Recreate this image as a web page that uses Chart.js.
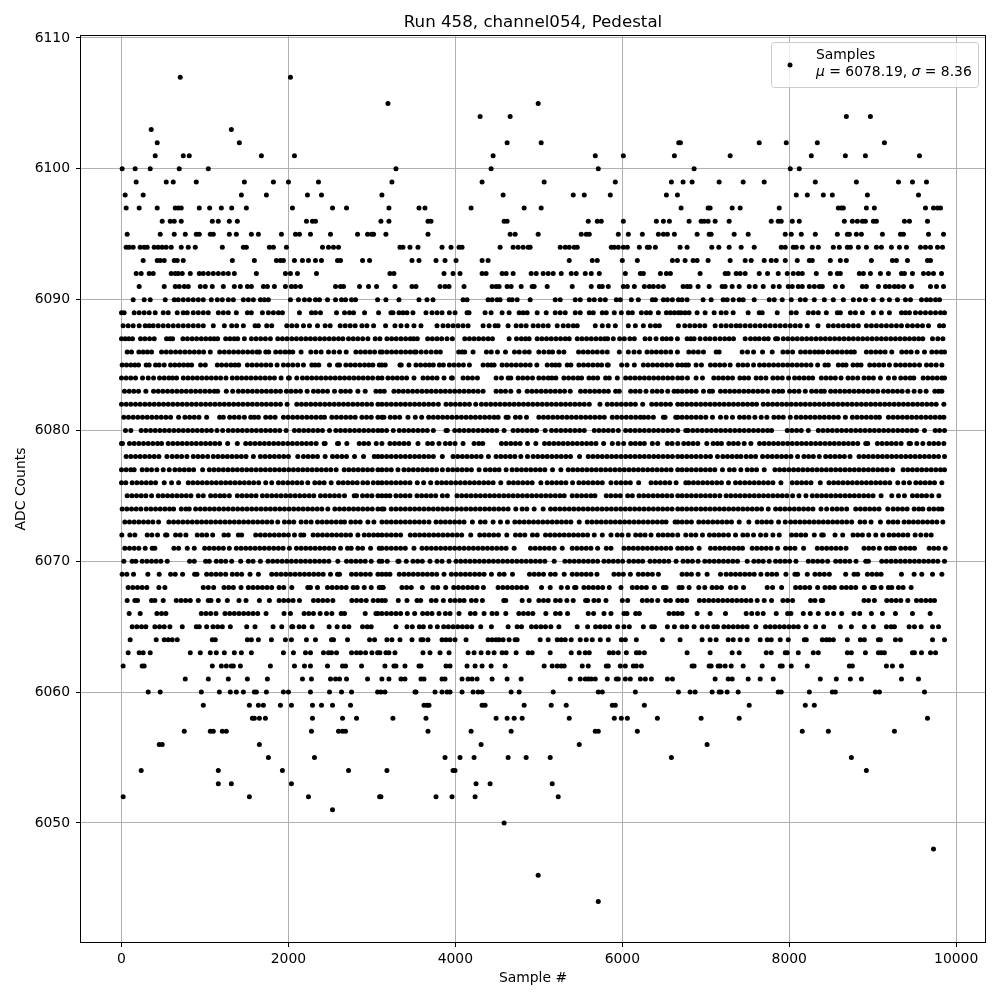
<!DOCTYPE html>
<html>
<head>
<meta charset="utf-8">
<title>Run 458, channel054, Pedestal</title>
<script src="https://cdn.jsdelivr.net/npm/chart.js@4/dist/chart.umd.min.js"></script>
<style>
  body { margin: 0; background: #fff; }
  canvas { display: block; }
</style>
</head>
<body>
<canvas id="chart" width="1000" height="1000"></canvas>
<script>
const chartTitle = "Run 458, channel054, Pedestal";
const xLabel = "Sample #";
const yLabel = "ADC Counts";
const seriesName = "Samples";
const meanAdc = "6078.19";
const sigmaAdc = "8.36";
const xTicks = [0, 2000, 4000, 6000, 8000, 10000];
const yTicks = [6050, 6060, 6070, 6080, 6090, 6100, 6110];

// sample numbers, one list per ADC level.
// the dense rows overlap too much to separate single samples, so those positions are estimates
const adc6107 = [704, 2024];
const adc6105 = [3192, 4992];
const adc6104 = [4296, 4656, 8684, 8972];
const adc6103 = [356, 1316];
const adc6102 = [428, 1412, 4620, 5028, 6676, 6696, 7640, 7964, 8336, 9140];
const adc6101 = [404, 740, 812, 1676, 2072, 4452, 5676, 6012, 6624, 7292, 8264, 8672, 8912, 9560];
const adc6100 = [8, 164, 344, 692, 1040, 3288, 4428, 5712, 6860, 8012, 8120];
const adc6099 = [176, 536, 620, 896, 1472, 1820, 2000, 2360, 3240, 4320, 5064, 5916, 6588, 6728, 6836, 7160, 7448, 7700, 8312, 8804, 9308, 9476, 9644];
const adc6098 = [44, 260, 1436, 1736, 2228, 2396, 3120, 4572, 5412, 5544, 5856, 6528, 6660, 8084, 8216, 8408, 8516, 8936, 9548];
const adc6097 = [56, 212, 428, 644, 680, 716, 932, 1056, 1196, 1320, 1496, 2048, 2528, 2696, 3204, 3564, 3636, 4188, 4824, 5028, 6704, 7028, 7052, 7316, 7412, 7880, 8588, 8624, 8648, 8924, 9020, 9632, 9728, 9776, 9812];
const adc6096 = [488, 584, 632, 716, 1088, 1160, 1292, 1388, 2216, 2288, 2324, 3108, 3204, 3672, 3708, 4584, 4620, 5592, 5700, 5748, 6012, 6408, 6492, 6564, 6800, 6944, 6980, 7028, 7112, 7280, 7784, 7868, 7904, 8036, 8120, 8660, 8756, 8816, 8876, 8912, 9008, 9044, 9380, 9440, 9656];
const adc6095 = [68, 464, 632, 764, 896, 932, 1064, 1100, 1292, 1376, 1556, 1640, 1916, 2084, 2132, 2264, 2504, 2828, 2948, 2996, 3020, 3168, 3672, 4656, 4716, 4992, 5508, 5568, 5604, 5952, 6072, 6240, 6432, 6492, 6540, 6624, 6896, 7040, 7064, 7340, 7508, 7952, 8024, 8144, 8312, 8576, 8696, 8720, 8804, 8864, 9116, 9332, 9368, 9668, 9848];
const adc6094 = [56, 92, 140, 224, 272, 308, 392, 440, 488, 536, 596, 716, 800, 884, 1208, 1460, 1496, 1772, 1820, 1976, 2408, 2480, 2540, 2600, 3336, 3372, 3456, 3552, 3840, 3948, 4044, 4080, 4536, 4692, 4752, 4812, 4872, 4896, 5256, 5316, 5364, 5424, 5460, 5868, 5904, 5952, 6012, 6060, 6204, 6300, 6324, 6396, 6692, 6776, 7072, 7156, 7280, 7424, 7580, 7904, 7952, 8048, 8084, 8156, 8276, 8348, 8528, 8600, 8696, 8732, 8828, 8924, 9044, 9104, 9224, 9320, 9404, 9572, 9632, 9692, 9776, 9836];
const adc6093 = [260, 428, 464, 512, 632, 668, 740, 1328, 1592, 1856, 1904, 1940, 2072, 2168, 2240, 2324, 2396, 2588, 2624, 2888, 2972, 3480, 3564, 3768, 3876, 4008, 4320, 4392, 5364, 5640, 5700, 6000, 6180, 6600, 6660, 6752, 6848, 6896, 7028, 7292, 7472, 7544, 7700, 7784, 7844, 7952, 8096, 8240, 8276, 8492, 8612, 8684, 8984, 9236, 9284, 9416, 9656, 9692];
const adc6092 = [176, 236, 332, 380, 596, 644, 680, 728, 824, 932, 980, 1040, 1100, 1160, 1220, 1280, 1352, 1616, 1964, 2024, 2108, 2336, 3216, 3264, 3864, 3972, 4056, 4320, 4368, 4560, 4608, 4692, 4908, 4968, 5052, 5112, 5172, 5268, 5388, 5448, 5556, 5628, 5724, 6036, 6216, 6252, 6456, 6528, 6576, 6932, 7232, 7268, 7364, 7412, 7472, 7640, 7740, 7868, 7976, 8048, 8108, 8156, 8324, 8492, 8576, 8612, 8840, 8888, 8972, 9092, 9188, 9344, 9380, 9476, 9608, 9668, 9728, 9824];
const adc6091 = [212, 512, 644, 692, 752, 800, 944, 1004, 1088, 1220, 1352, 1424, 1508, 1556, 1700, 1748, 1832, 1964, 2036, 2084, 2144, 2564, 2624, 2660, 2852, 2960, 3056, 3276, 3480, 3528, 3816, 3876, 3924, 4104, 4440, 4488, 4524, 4620, 4668, 4788, 4920, 4944, 5100, 5400, 5628, 5724, 5760, 5832, 6012, 6060, 6144, 6264, 6324, 6372, 6432, 6492, 6728, 6776, 6812, 6908, 7040, 7196, 7232, 7316, 7400, 7520, 7592, 7688, 7808, 7880, 7988, 8036, 8108, 8156, 8240, 8300, 8360, 8396, 8552, 8636, 8876, 8924, 9068, 9152, 9200, 9260, 9308, 9368, 9464, 9692, 9764, 9848];
const adc6090 = [140, 272, 344, 524, 632, 680, 740, 800, 860, 920, 980, 1076, 1148, 1208, 1280, 1340, 1460, 1520, 1580, 1664, 1712, 1760, 2024, 2120, 2192, 2252, 2324, 2372, 2468, 2564, 2636, 2684, 2756, 2804, 3068, 3168, 3324, 3564, 3660, 3732, 4092, 4140, 4392, 4440, 4500, 4536, 4644, 4680, 4740, 4896, 5196, 5256, 5436, 5496, 5604, 5664, 5736, 5796, 5928, 5976, 6108, 6192, 6360, 6396, 6492, 6540, 6600, 6672, 6716, 6776, 6968, 7064, 7208, 7256, 7328, 7400, 7448, 7580, 7760, 7820, 7916, 8024, 8132, 8192, 8300, 8420, 8528, 8648, 8768, 8840, 8912, 9008, 9112, 9200, 9296, 9392, 9452, 9584, 9644, 9692, 9752, 9800];
const adc6089 = [0, 32, 152, 212, 272, 332, 404, 500, 560, 668, 740, 788, 860, 920, 980, 1040, 1160, 1220, 1280, 1376, 1508, 1556, 1688, 1760, 1820, 1880, 1928, 2132, 2276, 2324, 2384, 2576, 2672, 2732, 2780, 2912, 3080, 3228, 3252, 3324, 3372, 3420, 3492, 3648, 3720, 3780, 3840, 3928, 3996, 4140, 4164, 4356, 4428, 4560, 4644, 4764, 4812, 4860, 4980, 5088, 5196, 5256, 5316, 5436, 5496, 5604, 5652, 5760, 5808, 5904, 5988, 6072, 6120, 6228, 6288, 6336, 6432, 6528, 6576, 6624, 6672, 6704, 6752, 6800, 6896, 6992, 7100, 7184, 7244, 7328, 7508, 7640, 7676, 7856, 8024, 8084, 8228, 8288, 8348, 8444, 8576, 8612, 8732, 8792, 8876, 9008, 9104, 9200, 9344, 9392, 9440, 9512, 9572, 9632, 9692, 9752, 9812, 9860];
const adc6088 = [20, 80, 140, 212, 284, 332, 380, 440, 500, 560, 620, 680, 740, 800, 860, 920, 980, 1100, 1232, 1320, 1380, 1460, 1600, 1640, 1740, 1800, 1980, 2040, 2100, 2180, 2252, 2348, 2440, 2500, 2620, 2680, 2740, 2800, 2880, 2940, 3020, 3164, 3276, 3348, 3420, 3504, 3588, 3780, 3852, 3912, 3972, 4032, 4092, 4152, 4332, 4404, 4476, 4512, 4632, 4728, 4788, 4848, 4932, 4992, 5052, 5112, 5220, 5292, 5352, 5412, 5460, 5676, 5760, 5832, 5916, 6072, 6156, 6252, 6336, 6396, 6444, 6672, 6748, 6808, 6868, 6928, 6988, 7112, 7184, 7244, 7304, 7364, 7412, 7472, 7532, 7592, 7652, 7712, 7772, 7832, 7892, 7952, 8012, 8072, 8132, 8216, 8344, 8468, 8528, 8588, 8648, 8708, 8768, 8828, 8924, 8984, 9044, 9104, 9164, 9224, 9284, 9344, 9416, 9476, 9536, 9596, 9668, 9800, 9848];
const adc6087 = [0, 44, 88, 132, 228, 280, 336, 392, 540, 580, 612, 736, 790, 846, 900, 956, 1010, 1064, 1110, 1152, 1248, 1300, 1350, 1392, 1472, 1556, 1612, 1668, 1724, 1784, 1872, 1928, 1984, 2040, 2096, 2152, 2208, 2264, 2320, 2376, 2432, 2488, 2544, 2600, 2652, 2720, 2776, 2832, 2890, 2952, 3040, 3096, 3180, 3236, 3292, 3348, 3404, 3460, 3500, 3544, 3668, 3724, 3780, 3836, 3900, 3964, 4112, 4168, 4224, 4280, 4336, 4392, 4444, 4644, 4732, 4790, 4840, 4884, 4980, 5036, 5092, 5148, 5204, 5260, 5316, 5364, 5460, 5516, 5572, 5628, 5684, 5740, 5790, 5824, 5892, 5968, 6024, 6090, 6144, 6272, 6330, 6404, 6480, 6530, 6584, 6660, 6776, 6820, 6860, 6932, 6996, 7050, 7110, 7170, 7226, 7280, 7332, 7472, 7536, 7590, 7640, 7700, 7748, 7836, 7860, 7928, 7984, 8040, 8096, 8152, 8208, 8264, 8320, 8376, 8432, 8488, 8544, 8600, 8656, 8712, 8768, 8824, 8880, 8936, 8992, 9048, 9104, 9160, 9216, 9272, 9328, 9384, 9440, 9496, 9550, 9600, 9716, 9780, 9840];
const adc6086 = [68, 120, 208, 260, 310, 360, 480, 536, 592, 648, 704, 760, 816, 872, 928, 984, 1064, 1176, 1232, 1288, 1344, 1400, 1456, 1512, 1568, 1624, 1652, 1728, 1764, 1848, 1904, 1960, 2010, 2052, 2152, 2268, 2330, 2392, 2480, 2545, 2612, 2692, 2808, 2864, 2920, 2976, 3032, 3100, 3124, 3180, 3236, 3292, 3348, 3404, 3460, 3510, 3530, 3590, 3650, 3710, 3770, 3820, 4040, 4080, 4112, 4212, 4372, 4430, 4504, 4600, 4708, 4765, 4830, 4884, 5000, 5060, 5120, 5164, 5240, 5300, 5476, 5532, 5588, 5644, 5700, 5760, 5820, 5964, 6072, 6140, 6204, 6296, 6352, 6408, 6464, 6520, 6580, 6660, 6796, 6852, 6910, 6972, 7124, 7160, 7436, 7500, 7572, 7680, 7796, 7924, 7980, 8040, 8136, 8192, 8248, 8304, 8352, 8400, 8464, 8520, 8576, 8632, 8688, 8740, 8780, 8924, 8980, 9036, 9092, 9148, 9228, 9348, 9404, 9460, 9532, 9620, 9708, 9764, 9820, 9860];
const adc6085 = [8, 60, 112, 160, 204, 296, 332, 408, 452, 512, 588, 640, 692, 744, 796, 840, 948, 1004, 1148, 1200, 1256, 1312, 1360, 1404, 1508, 1564, 1620, 1676, 1732, 1788, 1864, 1940, 1996, 2052, 2112, 2180, 2280, 2320, 2364, 2492, 2588, 2612, 2688, 2744, 2800, 2856, 2912, 2964, 3012, 3088, 3120, 3160, 3336, 3352, 3444, 3528, 3584, 3640, 3690, 3736, 3808, 3856, 3928, 3984, 4040, 4096, 4168, 4332, 4388, 4430, 4464, 4560, 4616, 4672, 4728, 4784, 4840, 4896, 4976, 5100, 5156, 5200, 5244, 5340, 5384, 5480, 5536, 5592, 5648, 5704, 5752, 5820, 5832, 5992, 6056, 6144, 6252, 6308, 6364, 6420, 6476, 6532, 6588, 6664, 6716, 6760, 6792, 6884, 6948, 7056, 7112, 7168, 7224, 7292, 7388, 7444, 7500, 7572, 7644, 7700, 7756, 7812, 7868, 7924, 7980, 8036, 8092, 8148, 8204, 8260, 8340, 8428, 8468, 8588, 8640, 8680, 8764, 8816, 8860, 8964, 9020, 9076, 9132, 9200, 9276, 9332, 9388, 9444, 9500, 9560, 9644, 9700, 9760, 9828];
const adc6084 = [0, 56, 112, 168, 252, 320, 384, 456, 512, 568, 612, 660, 740, 796, 852, 908, 964, 1020, 1076, 1132, 1188, 1252, 1328, 1384, 1440, 1496, 1552, 1608, 1664, 1720, 1776, 1832, 1912, 2000, 2012, 2100, 2168, 2224, 2280, 2336, 2392, 2448, 2504, 2560, 2616, 2672, 2728, 2784, 2840, 2896, 2952, 3008, 3072, 3120, 3192, 3248, 3304, 3360, 3416, 3504, 3612, 3668, 3724, 3780, 3864, 3952, 3964, 4092, 4148, 4204, 4264, 4488, 4552, 4632, 4664, 4752, 4808, 4864, 4924, 5000, 5056, 5112, 5156, 5204, 5300, 5356, 5412, 5468, 5512, 5600, 5652, 5704, 5800, 5844, 5940, 6040, 6096, 6152, 6208, 6264, 6320, 6376, 6432, 6488, 6544, 6600, 6664, 6716, 6780, 6884, 6960, 7096, 7152, 7208, 7264, 7320, 7408, 7460, 7512, 7604, 7660, 7720, 7804, 7860, 7916, 7992, 8064, 8120, 8176, 8232, 8280, 8384, 8440, 8496, 8552, 8620, 8704, 8760, 8820, 8896, 8952, 9008, 9092, 9188, 9260, 9336, 9392, 9448, 9492, 9604, 9660, 9716, 9772, 9828, 9860];
const adc6083 = [36, 92, 148, 204, 292, 384, 440, 496, 552, 608, 664, 720, 776, 832, 888, 944, 1000, 1056, 1112, 1152, 1256, 1332, 1400, 1456, 1512, 1568, 1624, 1680, 1736, 1792, 1848, 1904, 1976, 2032, 2088, 2144, 2224, 2300, 2356, 2412, 2468, 2552, 2628, 2684, 2740, 2832, 2920, 3048, 3100, 3148, 3264, 3320, 3376, 3432, 3488, 3544, 3600, 3656, 3712, 3768, 3824, 3880, 3936, 3992, 4048, 4104, 4160, 4216, 4272, 4332, 4488, 4544, 4600, 4664, 4760, 4860, 4916, 4972, 5028, 5084, 5140, 5196, 5252, 5308, 5376, 5500, 5556, 5612, 5668, 5724, 5780, 5832, 5920, 5964, 6100, 6156, 6212, 6284, 6360, 6416, 6472, 6544, 6620, 6664, 6716, 6772, 6828, 6884, 6972, 7044, 7080, 7176, 7232, 7288, 7344, 7400, 7456, 7512, 7568, 7624, 7680, 7740, 7816, 7872, 7920, 8004, 8060, 8116, 8192, 8268, 8324, 8380, 8420, 8496, 8552, 8608, 8664, 8720, 8776, 8832, 8888, 8944, 9000, 9060, 9128, 9184, 9240, 9296, 9352, 9420, 9496, 9568, 9640, 9744, 9790, 9828];
const adc6082 = [0, 56, 112, 168, 224, 280, 336, 392, 448, 504, 560, 616, 672, 728, 784, 840, 896, 952, 1008, 1064, 1120, 1176, 1232, 1288, 1344, 1400, 1456, 1512, 1568, 1624, 1680, 1736, 1792, 1848, 1904, 1984, 2100, 2156, 2212, 2268, 2324, 2380, 2436, 2492, 2548, 2604, 2660, 2716, 2772, 2828, 2884, 2940, 2996, 3072, 3120, 3176, 3232, 3288, 3344, 3400, 3456, 3512, 3568, 3624, 3680, 3736, 3796, 3888, 3944, 4000, 4056, 4112, 4168, 4244, 4312, 4368, 4424, 4480, 4536, 4592, 4648, 4704, 4760, 4816, 4872, 4928, 4984, 5040, 5096, 5152, 5208, 5264, 5320, 5376, 5432, 5488, 5544, 5604, 5732, 5820, 5876, 5932, 5988, 6044, 6100, 6156, 6244, 6352, 6408, 6464, 6520, 6576, 6664, 6716, 6772, 6828, 6884, 6940, 6996, 7052, 7108, 7164, 7220, 7276, 7332, 7388, 7444, 7500, 7556, 7608, 7688, 7744, 7800, 7856, 7912, 7968, 8024, 8080, 8136, 8192, 8248, 8304, 8360, 8416, 8472, 8528, 8584, 8640, 8696, 8752, 8808, 8864, 8920, 8976, 9032, 9088, 9144, 9200, 9256, 9312, 9368, 9424, 9480, 9536, 9592, 9648, 9704, 9760, 9852];
const adc6081 = [28, 84, 140, 196, 252, 308, 364, 420, 476, 532, 588, 684, 760, 816, 872, 928, 1020, 1176, 1220, 1296, 1352, 1408, 1472, 1548, 1592, 1640, 1728, 1784, 1840, 1940, 1996, 2052, 2108, 2164, 2220, 2276, 2332, 2388, 2432, 2520, 2576, 2632, 2688, 2744, 2800, 2880, 2936, 2992, 3072, 3120, 3144, 3220, 3276, 3332, 3432, 3520, 3596, 3680, 3736, 3792, 3848, 3904, 3960, 4016, 4072, 4128, 4184, 4240, 4296, 4352, 4408, 4464, 4512, 4608, 4632, 4720, 4776, 4852, 5000, 5056, 5112, 5168, 5224, 5280, 5336, 5392, 5448, 5504, 5560, 5616, 5672, 5728, 5784, 5880, 5936, 5992, 6048, 6104, 6160, 6216, 6260, 6312, 6372, 6492, 6512, 6640, 6664, 6716, 6772, 6828, 6884, 6940, 7000, 7080, 7176, 7244, 7320, 7404, 7460, 7516, 7588, 7664, 7732, 7816, 7872, 7928, 8012, 8084, 8140, 8196, 8252, 8308, 8364, 8420, 8476, 8532, 8588, 8672, 8756, 8812, 8868, 8924, 8980, 9036, 9080, 9188, 9244, 9300, 9356, 9412, 9468, 9524, 9580, 9636, 9692, 9748, 9804, 9852];
const adc6080 = [48, 112, 236, 292, 348, 404, 460, 516, 572, 628, 684, 740, 796, 852, 908, 964, 1020, 1076, 1144, 1212, 1280, 1336, 1392, 1448, 1504, 1560, 1616, 1672, 1728, 1784, 1840, 1896, 1972, 2072, 2128, 2184, 2240, 2296, 2352, 2408, 2492, 2568, 2624, 2680, 2736, 2792, 2848, 2904, 2960, 3016, 3072, 3120, 3176, 3256, 3328, 3384, 3440, 3496, 3552, 3608, 3664, 3736, 3888, 3904, 3992, 4048, 4104, 4160, 4216, 4272, 4328, 4384, 4440, 4496, 4584, 4692, 4748, 4804, 4860, 4916, 4972, 5076, 5152, 5208, 5264, 5320, 5376, 5432, 5488, 5544, 5664, 5720, 5776, 5832, 5888, 5952, 6040, 6096, 6152, 6208, 6264, 6320, 6376, 6432, 6488, 6544, 6600, 6664, 6760, 6788, 6844, 6900, 6956, 7012, 7068, 7124, 7180, 7236, 7292, 7348, 7404, 7460, 7516, 7572, 7628, 7684, 7740, 7788, 7976, 8032, 8088, 8144, 8228, 8348, 8404, 8460, 8516, 8572, 8628, 8684, 8740, 8796, 8852, 8908, 8964, 9020, 9076, 9132, 9188, 9244, 9300, 9356, 9412, 9468, 9524, 9620, 9748, 9800, 9860];
const adc6079 = [0, 12, 96, 152, 208, 264, 320, 376, 432, 480, 560, 616, 672, 728, 784, 840, 896, 952, 1008, 1064, 1120, 1176, 1272, 1388, 1488, 1544, 1600, 1656, 1712, 1768, 1824, 1880, 1936, 1992, 2048, 2104, 2160, 2216, 2272, 2332, 2428, 2440, 2588, 2600, 2700, 2848, 2904, 2960, 3052, 3120, 3216, 3272, 3328, 3384, 3440, 3552, 3668, 3724, 3804, 3880, 3936, 3996, 4092, 4224, 4280, 4328, 4552, 4608, 4664, 4720, 4776, 4864, 4964, 5068, 5124, 5180, 5236, 5292, 5348, 5404, 5460, 5516, 5572, 5628, 5684, 5776, 5880, 5950, 6016, 6100, 6156, 6212, 6264, 6360, 6424, 6540, 6596, 6664, 6736, 6792, 6848, 6904, 7012, 7088, 7140, 7188, 7276, 7332, 7388, 7460, 7540, 7644, 7700, 7756, 7812, 7868, 7924, 7980, 8036, 8092, 8148, 8204, 8260, 8316, 8372, 8428, 8484, 8540, 8596, 8652, 8708, 8764, 8820, 8916, 8940, 9056, 9112, 9168, 9224, 9280, 9340, 9436, 9452, 9528, 9600, 9676, 9732, 9788, 9852];
const adc6078 = [56, 112, 168, 224, 280, 336, 392, 448, 544, 608, 664, 720, 784, 860, 916, 972, 1032, 1100, 1156, 1212, 1268, 1324, 1380, 1436, 1492, 1580, 1664, 1720, 1776, 1832, 1888, 1944, 2000, 2112, 2180, 2236, 2292, 2348, 2440, 2528, 2584, 2640, 2696, 2792, 2900, 3028, 3072, 3120, 3176, 3232, 3288, 3344, 3400, 3456, 3512, 3568, 3624, 3680, 3736, 3844, 3972, 4028, 4084, 4140, 4196, 4252, 4308, 4396, 4488, 4544, 4600, 4656, 4712, 4784, 4864, 4932, 4988, 5044, 5100, 5156, 5212, 5268, 5324, 5380, 5488, 5592, 5648, 5704, 5760, 5816, 5872, 5928, 5984, 6040, 6096, 6152, 6208, 6264, 6320, 6376, 6432, 6488, 6544, 6600, 6664, 6716, 6772, 6828, 6884, 6940, 7000, 7056, 7140, 7204, 7260, 7316, 7372, 7420, 7484, 7540, 7596, 7680, 7740, 7796, 7852, 7908, 7964, 8020, 8100, 8176, 8232, 8288, 8360, 8436, 8492, 8548, 8604, 8660, 8728, 8836, 8892, 8948, 9004, 9060, 9116, 9172, 9228, 9284, 9340, 9396, 9452, 9508, 9564, 9620, 9676, 9732, 9788, 9860];
const adc6077 = [0, 56, 112, 152, 248, 304, 360, 424, 500, 572, 640, 696, 752, 808, 864, 972, 1052, 1108, 1164, 1220, 1276, 1332, 1388, 1444, 1500, 1556, 1612, 1668, 1724, 1780, 1836, 1892, 1948, 2004, 2060, 2116, 2172, 2228, 2284, 2340, 2396, 2452, 2508, 2572, 2668, 2724, 2780, 2836, 2892, 2948, 3004, 3072, 3120, 3176, 3232, 3312, 3384, 3440, 3496, 3552, 3608, 3664, 3720, 3776, 3844, 3912, 3968, 4024, 4080, 4136, 4192, 4284, 4360, 4416, 4472, 4524, 4608, 4680, 4736, 4792, 4848, 4904, 4960, 5016, 5072, 5164, 5264, 5352, 5408, 5464, 5520, 5576, 5632, 5688, 5744, 5800, 5856, 5912, 5968, 6024, 6080, 6136, 6192, 6248, 6304, 6360, 6416, 6472, 6528, 6584, 6664, 6716, 6772, 6828, 6884, 6940, 6996, 7052, 7108, 7200, 7284, 7340, 7420, 7496, 7552, 7608, 7700, 7828, 7884, 7940, 7996, 8052, 8108, 8164, 8220, 8276, 8332, 8388, 8444, 8500, 8556, 8612, 8668, 8724, 8780, 8836, 8892, 8948, 9004, 9060, 9116, 9172, 9240, 9364, 9420, 9476, 9532, 9588, 9644, 9700, 9756, 9812, 9860];
const adc6076 = [0, 52, 128, 184, 240, 296, 352, 408, 512, 600, 684, 800, 856, 912, 968, 1024, 1080, 1136, 1192, 1248, 1304, 1360, 1416, 1472, 1528, 1584, 1644, 1728, 1800, 1880, 1936, 1992, 2048, 2104, 2160, 2232, 2316, 2372, 2428, 2512, 2600, 2656, 2712, 2768, 2824, 2892, 2948, 3016, 3072, 3120, 3176, 3232, 3288, 3344, 3400, 3456, 3544, 3620, 3704, 3780, 3836, 3892, 3948, 4004, 4060, 4116, 4172, 4228, 4284, 4340, 4396, 4452, 4544, 4640, 4696, 4752, 4808, 4864, 4920, 5024, 5100, 5156, 5212, 5268, 5324, 5404, 5480, 5536, 5592, 5648, 5704, 5760, 5864, 5928, 5984, 6040, 6096, 6196, 6344, 6400, 6456, 6512, 6568, 6644, 6760, 6796, 6852, 6908, 6964, 7020, 7076, 7132, 7188, 7272, 7356, 7412, 7468, 7524, 7580, 7636, 7692, 7748, 7804, 7900, 8036, 8092, 8148, 8204, 8260, 8372, 8476, 8532, 8588, 8644, 8700, 8756, 8812, 8868, 8924, 8980, 9036, 9092, 9148, 9204, 9300, 9372, 9440, 9516, 9572, 9628, 9684, 9740, 9828];
const adc6075 = [68, 124, 180, 236, 292, 360, 440, 496, 552, 608, 664, 720, 776, 832, 920, 980, 1068, 1124, 1180, 1232, 1292, 1388, 1444, 1500, 1556, 1612, 1688, 1744, 1800, 1856, 1912, 1968, 2024, 2080, 2136, 2192, 2248, 2304, 2384, 2440, 2496, 2552, 2608, 2672, 2788, 2816, 2888, 2944, 3000, 3072, 3120, 3170, 3216, 3288, 3344, 3400, 3456, 3540, 3596, 3652, 3708, 3764, 3844, 3904, 4020, 4076, 4132, 4188, 4244, 4300, 4356, 4412, 4468, 4524, 4580, 4636, 4692, 4748, 4804, 4860, 4916, 4972, 5028, 5084, 5140, 5196, 5252, 5304, 5400, 5456, 5512, 5568, 5624, 5672, 5808, 5864, 5920, 5976, 6064, 6120, 6200, 6256, 6312, 6368, 6424, 6480, 6536, 6592, 6664, 6716, 6772, 6828, 6884, 6940, 6996, 7052, 7108, 7168, 7244, 7300, 7356, 7412, 7468, 7524, 7580, 7636, 7692, 7748, 7804, 7860, 7916, 7972, 8040, 8116, 8200, 8276, 8332, 8388, 8444, 8500, 8556, 8612, 8668, 8724, 8780, 8836, 8892, 8948, 9004, 9100, 9228, 9308, 9380, 9476, 9532, 9588, 9644, 9708, 9792];
const adc6074 = [8, 64, 120, 176, 232, 296, 352, 408, 464, 520, 576, 624, 716, 772, 812, 888, 944, 1000, 1056, 1112, 1168, 1224, 1280, 1336, 1392, 1448, 1504, 1560, 1616, 1672, 1728, 1784, 1840, 1896, 1952, 2008, 2064, 2120, 2176, 2232, 2288, 2344, 2400, 2472, 2556, 2612, 2668, 2724, 2780, 2836, 2892, 2948, 3004, 3072, 3120, 3144, 3232, 3288, 3344, 3400, 3456, 3512, 3568, 3624, 3680, 3736, 3792, 3848, 3904, 3960, 4016, 4072, 4128, 4184, 4240, 4296, 4352, 4408, 4464, 4520, 4576, 4632, 4724, 4800, 4856, 4944, 5052, 5140, 5196, 5252, 5308, 5364, 5420, 5476, 5532, 5588, 5644, 5700, 5756, 5812, 5868, 5924, 5980, 6036, 6092, 6148, 6204, 6260, 6316, 6372, 6428, 6484, 6540, 6596, 6664, 6716, 6772, 6828, 6884, 6940, 6996, 7052, 7108, 7164, 7220, 7276, 7332, 7388, 7444, 7500, 7556, 7612, 7668, 7748, 7836, 7892, 7948, 8004, 8060, 8116, 8172, 8228, 8284, 8380, 8448, 8516, 8572, 8628, 8688, 8796, 8852, 8908, 8964, 9020, 9076, 9180, 9244, 9300, 9356, 9412, 9496, 9552, 9600, 9676, 9732, 9788, 9828];
const adc6073 = [40, 96, 152, 208, 264, 320, 376, 444, 568, 624, 680, 736, 792, 848, 904, 960, 1016, 1072, 1128, 1184, 1240, 1296, 1352, 1408, 1464, 1520, 1576, 1632, 1688, 1744, 1800, 1872, 1952, 2008, 2064, 2152, 2212, 2272, 2348, 2404, 2460, 2516, 2572, 2628, 2672, 2748, 2804, 2860, 2952, 3024, 3120, 3176, 3232, 3288, 3344, 3400, 3456, 3512, 3568, 3624, 3684, 3768, 3824, 3880, 3936, 3992, 4048, 4104, 4204, 4300, 4356, 4452, 4540, 4624, 4712, 4768, 4824, 4880, 4936, 4992, 5048, 5104, 5160, 5216, 5272, 5328, 5384, 5484, 5580, 5636, 5692, 5748, 5804, 5860, 5916, 5972, 6028, 6084, 6140, 6196, 6252, 6308, 6364, 6420, 6476, 6524, 6632, 6664, 6716, 6772, 6828, 6916, 6972, 7028, 7084, 7140, 7196, 7252, 7308, 7400, 7516, 7616, 7672, 7728, 7784, 7872, 7952, 8016, 8072, 8128, 8184, 8240, 8296, 8352, 8408, 8464, 8520, 8576, 8632, 8688, 8748, 8848, 8904, 8980, 9092, 9188, 9244, 9300, 9376, 9432, 9488, 9544, 9600, 9656, 9712, 9768, 9840];
const adc6072 = [4, 100, 160, 308, 364, 432, 528, 544, 648, 704, 772, 908, 964, 1020, 1092, 1228, 1280, 1400, 1440, 1608, 1664, 1720, 1776, 1832, 1888, 1944, 2000, 2072, 2148, 2184, 2296, 2352, 2408, 2464, 2520, 2576, 2632, 2688, 2744, 2832, 2908, 2964, 3020, 3072, 3120, 3176, 3232, 3288, 3344, 3460, 3516, 3572, 3628, 3684, 3740, 3796, 3852, 3908, 3964, 4020, 4076, 4184, 4292, 4348, 4404, 4460, 4516, 4616, 4720, 4776, 4832, 4924, 4980, 5080, 5136, 5192, 5248, 5304, 5360, 5416, 5472, 5528, 5584, 5664, 5760, 5864, 5940, 5996, 6072, 6160, 6216, 6272, 6344, 6432, 6488, 6544, 6600, 6664, 6760, 6824, 6880, 6960, 7044, 7100, 7156, 7212, 7272, 7356, 7444, 7500, 7572, 7656, 7720, 7804, 7880, 8028, 8084, 8140, 8196, 8300, 8388, 8408, 8548, 8640, 8764, 8820, 8876, 8952, 9036, 9120, 9196, 9252, 9308, 9364, 9420, 9508, 9576, 9640, 9700];
const adc6071 = [40, 96, 152, 208, 284, 368, 400, 628, 684, 788, 872, 996, 1052, 1108, 1164, 1220, 1292, 1376, 1432, 1488, 1544, 1600, 1656, 1712, 1768, 1824, 1880, 1936, 2012, 2096, 2152, 2208, 2264, 2320, 2376, 2432, 2488, 2544, 2624, 2708, 2752, 2832, 2888, 2984, 3088, 3120, 3176, 3232, 3288, 3344, 3400, 3504, 3600, 3656, 3712, 3768, 3824, 3880, 3936, 3992, 4048, 4104, 4160, 4216, 4272, 4328, 4384, 4440, 4496, 4552, 4608, 4704, 4900, 4956, 5012, 5068, 5124, 5184, 5280, 5400, 5456, 5512, 5568, 5624, 5704, 5808, 5864, 6020, 6076, 6132, 6188, 6244, 6300, 6356, 6412, 6468, 6524, 6580, 6664, 6716, 6772, 6828, 6920, 7056, 7112, 7168, 7224, 7280, 7336, 7392, 7440, 7556, 7612, 7668, 7724, 7780, 7860, 7956, 8012, 8068, 8172, 8336, 8392, 8448, 8504, 8560, 8616, 8680, 8896, 8952, 9008, 9080, 9164, 9220, 9260, 9336, 9392, 9448, 9500, 9676, 9732, 9788, 9868];
const adc6070 = [28, 128, 172, 248, 304, 360, 416, 472, 548, 816, 872, 1008, 1052, 1136, 1192, 1248, 1320, 1428, 1520, 1576, 1664, 1756, 1812, 1868, 1924, 1980, 2036, 2092, 2148, 2204, 2260, 2316, 2372, 2428, 2484, 2592, 2696, 2752, 2808, 2864, 2920, 2992, 3088, 3120, 3184, 3312, 3324, 3412, 3492, 3548, 3604, 3696, 3780, 3840, 3924, 4008, 4064, 4120, 4176, 4232, 4288, 4344, 4400, 4456, 4512, 4568, 4624, 4680, 4736, 4792, 4848, 4904, 4960, 5016, 5072, 5184, 5312, 5368, 5424, 5480, 5536, 5592, 5648, 5704, 5780, 5836, 5892, 5948, 6004, 6080, 6136, 6192, 6244, 6332, 6388, 6444, 6500, 6556, 6644, 6728, 6784, 6840, 6908, 6988, 7044, 7100, 7156, 7212, 7268, 7324, 7380, 7496, 7576, 7632, 7688, 7760, 7836, 7892, 7948, 8004, 8080, 8228, 8284, 8340, 8396, 8460, 8556, 8612, 8668, 8724, 8800, 8916, 8948, 9108, 9164, 9220, 9276, 9332, 9388, 9444, 9500, 9556, 9612, 9668, 9724, 9780, 9860];
const adc6069 = [8, 64, 144, 316, 452, 588, 644, 732, 876, 904, 1020, 1076, 1132, 1188, 1248, 1328, 1384, 1440, 1540, 1640, 1800, 1856, 1912, 1968, 2024, 2080, 2136, 2192, 2248, 2304, 2360, 2416, 2504, 2588, 2612, 2756, 2812, 2868, 2924, 2980, 3072, 3120, 3170, 3216, 3328, 3384, 3440, 3496, 3552, 3608, 3664, 3720, 3776, 3864, 3952, 4008, 4064, 4120, 4176, 4232, 4288, 4344, 4432, 4528, 4584, 4684, 4888, 4944, 5000, 5056, 5140, 5196, 5304, 5400, 5456, 5512, 5568, 5624, 5696, 5900, 5956, 6012, 6096, 6192, 6248, 6304, 6360, 6432, 6716, 6772, 6828, 6908, 7016, 7176, 7244, 7300, 7356, 7412, 7468, 7524, 7580, 7660, 7736, 7792, 7848, 7960, 8068, 8100, 8216, 8308, 8364, 8420, 8480, 8676, 8776, 8820, 8936, 8992, 9048, 9100, 9344, 9496, 9588, 9716, 9828];
const adc6068 = [80, 136, 192, 248, 304, 448, 520, 980, 1040, 1104, 1228, 1284, 1340, 1432, 1520, 1576, 1632, 1688, 1744, 1800, 1888, 1944, 2040, 2232, 2264, 2348, 2468, 2524, 2580, 2636, 2692, 2776, 2824, 2908, 2992, 3088, 3120, 3136, 3360, 3416, 3472, 3604, 3732, 3788, 3884, 3980, 4036, 4092, 4148, 4204, 4260, 4336, 4512, 4568, 4624, 4680, 4736, 4792, 4852, 5032, 5136, 5268, 5344, 5428, 5444, 5540, 5596, 5652, 5708, 5764, 5844, 5984, 6120, 6176, 6232, 6288, 6384, 6492, 6524, 6680, 6716, 6800, 6916, 6988, 7076, 7130, 7188, 7296, 7360, 7452, 7736, 7800, 7908, 8076, 8132, 8188, 8244, 8340, 8428, 8484, 8540, 8628, 8684, 8740, 8796, 8900, 8996, 9020, 9100, 9188, 9228, 9308, 9364, 9460];
const adc6067 = [68, 160, 192, 360, 400, 500, 656, 712, 768, 824, 920, 1040, 1072, 1160, 1268, 1408, 1492, 1652, 1772, 1888, 1944, 2000, 2056, 2132, 2300, 2356, 2412, 2468, 2532, 2760, 2816, 2872, 2932, 3016, 3072, 3120, 3160, 3316, 3420, 3540, 3584, 3712, 3768, 3856, 3940, 3996, 4052, 4104, 4192, 4248, 4324, 4580, 4604, 4800, 4884, 5000, 5056, 5112, 5200, 5256, 5336, 5412, 5560, 5584, 5660, 5716, 5804, 6000, 6064, 6240, 6296, 6352, 6424, 6520, 6576, 6664, 6716, 6772, 6924, 6980, 7036, 7092, 7148, 7204, 7260, 7316, 7372, 7428, 7484, 7540, 7616, 7700, 7788, 7924, 7980, 8040, 8256, 8308, 8384, 8400, 8896, 8950, 9020, 9168, 9224, 9280, 9336, 9420, 9524, 9580, 9636, 9692, 9740];
const adc6066 = [92, 224, 424, 480, 532, 956, 1012, 1068, 1132, 1240, 1296, 1352, 1408, 1464, 1520, 1576, 1632, 1732, 1948, 2024, 2188, 2244, 2300, 2380, 2456, 2520, 2632, 2672, 2920, 3048, 3072, 3120, 3176, 3232, 3288, 3344, 3424, 3512, 3608, 3664, 3720, 3804, 3880, 3936, 4044, 4180, 4236, 4344, 4440, 4496, 4604, 4760, 4816, 4872, 4928, 5084, 5200, 5256, 5344, 5592, 5656, 5780, 5864, 6020, 6056, 6160, 6204, 6560, 6616, 6664, 6716, 6896, 7052, 7236, 7484, 7550, 7620, 7688, 7844, 7980, 8020, 8168, 8252, 8348, 8456, 8532, 8628, 8776, 8844, 8984, 9116, 9272, 9476, 9688];
const adc6065 = [128, 184, 240, 292, 400, 456, 512, 580, 728, 896, 932, 1020, 1096, 1152, 1208, 1304, 1500, 1600, 1816, 1920, 2040, 2052, 2128, 2184, 2284, 2488, 2584, 2668, 2724, 2888, 2944, 2992, 3288, 3420, 3484, 3568, 3616, 3700, 3784, 3860, 3916, 3972, 4028, 4084, 4140, 4196, 4304, 4432, 4632, 4740, 4792, 4912, 4968, 5024, 5080, 5144, 5240, 5460, 5584, 5680, 5736, 5792, 5848, 5944, 6020, 6084, 6252, 6352, 6384, 6540, 6624, 6716, 6772, 6860, 6956, 7020, 7096, 7140, 7216, 7272, 7328, 7384, 7440, 7496, 7600, 7716, 7772, 7828, 7884, 7940, 7996, 8052, 8108, 8200, 8316, 8412, 8612, 8744, 8900, 9008, 9164, 9220, 9260, 9436, 9500, 9580, 9716, 9788];
const adc6064 = [104, 416, 512, 560, 608, 668, 1088, 1124, 1508, 1556, 1640, 1796, 1964, 2036, 2216, 2324, 2516, 2540, 2708, 2972, 3032, 3180, 3240, 3336, 3480, 3588, 3612, 3672, 3840, 3888, 3936, 3996, 4128, 4392, 4440, 4488, 4524, 4572, 4644, 4716, 4740, 5016, 5112, 5220, 5268, 5316, 5388, 5496, 5568, 5640, 5736, 5832, 5988, 6036, 6168, 6480, 6692, 6956, 7052, 7124, 7268, 7328, 7412, 7496, 7652, 7736, 7784, 7892, 7988, 8180, 8204, 8396, 8444, 8480, 8528, 8696, 8852, 8900, 9068, 9092, 9272, 9332, 9716, 9860];
const adc6063 = [80, 212, 260, 344, 824, 944, 1064, 1136, 1232, 1352, 1436, 1556, 1940, 2060, 2204, 2264, 2420, 2480, 2516, 2576, 2756, 2816, 2864, 2924, 3000, 3068, 3096, 3168, 3204, 3276, 3612, 3696, 3816, 3924, 4152, 4224, 4308, 4392, 4464, 4560, 4608, 4728, 4872, 4920, 5136, 5388, 5484, 5556, 5604, 5844, 5892, 5952, 6048, 6168, 6204, 6264, 6776, 7052, 7316, 7400, 7724, 7784, 7952, 7976, 8108, 8288, 8348, 8696, 8744, 8912, 9068, 9104, 9140, 9476, 9500, 9584, 9692, 9752];
const adc6062 = [20, 248, 272, 1088, 1196, 1256, 1316, 1340, 1424, 1784, 2072, 2192, 2264, 2468, 2648, 2684, 2876, 3156, 3264, 3288, 3396, 3564, 3588, 3888, 3936, 4140, 4236, 4320, 4428, 4596, 5064, 5160, 5220, 5268, 5304, 5520, 5592, 5808, 5832, 5976, 6036, 6132, 6168, 6228, 6836, 6860, 7040, 7064, 7148, 7172, 7232, 7304, 7448, 7676, 7892, 7916, 8024, 8216, 8720, 8756, 9164, 9236, 9344];
const adc6061 = [764, 1040, 1280, 1508, 1748, 2168, 2276, 2504, 2564, 2612, 2696, 2948, 3120, 3204, 3348, 3396, 3588, 3624, 3840, 3876, 4080, 4152, 4200, 4260, 4440, 4620, 4788, 5376, 5496, 5556, 5592, 5628, 5676, 5820, 5928, 5952, 6036, 6096, 6216, 6276, 6348, 6540, 6600, 7112, 7268, 7316, 7508, 7652, 7808, 8372, 8564, 8732, 8864, 9344, 9548];
const adc6060 = [320, 464, 956, 1172, 1304, 1376, 1460, 1592, 1616, 1736, 1940, 2000, 2264, 2492, 2636, 2756, 3068, 3108, 3156, 3516, 3528, 3756, 3840, 3900, 3936, 4080, 4212, 4272, 4320, 4668, 4764, 5172, 5712, 5760, 6156, 6672, 6812, 6872, 7076, 7160, 7184, 7256, 7388, 7868, 7904, 8240, 8516, 8552, 9032, 9080, 9620];
const adc6059 = [980, 1532, 1640, 1700, 1904, 2036, 2288, 2396, 2528, 2744, 3624, 3660, 3684, 4320, 4356, 4824, 5148, 5328, 5880, 5916, 6264, 7520, 8192, 8300];
const adc6058 = [1568, 1592, 1652, 1724, 2288, 2648, 2816, 3252, 3648, 4488, 4620, 4704, 4800, 5364, 5904, 5988, 6060, 6420, 6944, 7400, 9656];
const adc6057 = [752, 1064, 1100, 1208, 1256, 2276, 2600, 2648, 2684, 3672, 4188, 4668, 5676, 5712, 6180, 8156, 8468, 9260];
const adc6056 = [452, 488, 1652, 4308, 5484, 7016];
const adc6055 = [1760, 2312, 3876, 4056, 4224, 4632, 4848, 5136, 6588, 8744];
const adc6054 = [236, 1160, 1928, 2720, 3180, 3972, 3996, 8924];
const adc6053 = [1160, 1316, 2036, 4248, 4416, 5160];
const adc6052 = [20, 1532, 2240, 3092, 3108, 3768, 3960, 4236, 5232];
const adc6051 = [2528];
const adc6050 = [4584];
const adc6048 = [9728];
const adc6046 = [4992];
const adc6044 = [5712];

const rows = [
  [6107, adc6107], [6105, adc6105], [6104, adc6104], [6103, adc6103], [6102, adc6102], [6101, adc6101],
  [6100, adc6100], [6099, adc6099], [6098, adc6098], [6097, adc6097], [6096, adc6096], [6095, adc6095],
  [6094, adc6094], [6093, adc6093], [6092, adc6092], [6091, adc6091], [6090, adc6090], [6089, adc6089],
  [6088, adc6088], [6087, adc6087], [6086, adc6086], [6085, adc6085], [6084, adc6084], [6083, adc6083],
  [6082, adc6082], [6081, adc6081], [6080, adc6080], [6079, adc6079], [6078, adc6078], [6077, adc6077],
  [6076, adc6076], [6075, adc6075], [6074, adc6074], [6073, adc6073], [6072, adc6072], [6071, adc6071],
  [6070, adc6070], [6069, adc6069], [6068, adc6068], [6067, adc6067], [6066, adc6066], [6065, adc6065],
  [6064, adc6064], [6063, adc6063], [6062, adc6062], [6061, adc6061], [6060, adc6060], [6059, adc6059],
  [6058, adc6058], [6057, adc6057], [6056, adc6056], [6055, adc6055], [6054, adc6054], [6053, adc6053],
  [6052, adc6052], [6051, adc6051], [6050, adc6050], [6048, adc6048], [6046, adc6046], [6044, adc6044],
];

const points = [];
rows.forEach(([level, samples]) => {
  samples.forEach((s) => points.push({ x: s, y: level }));
});

const FONT = "'DejaVu Sans'";

// black box round the axes, matplotlib style
const frame = {
  id: "frame",
  afterDatasetsDraw(chart) {
    const { ctx, chartArea: a } = chart;
    ctx.save();
    ctx.strokeStyle = "#000";
    ctx.lineWidth = 1;
    ctx.strokeRect(a.left - 0.5, a.top - 0.5, a.right - a.left + 1, a.bottom - a.top + 1);
    ctx.restore();
  },
};

// the legend has mixed italic text, the built in one can't do that
const mathLegend = {
  id: "mathLegend",
  afterDraw(chart) {
    const { ctx } = chart;
    ctx.save();
    ctx.beginPath();
    ctx.roundRect(771.5, 42.5, 207, 45, 3);
    ctx.fillStyle = "rgba(255,255,255,0.8)";
    ctx.fill();
    ctx.strokeStyle = "#ccc";
    ctx.lineWidth = 1;
    ctx.stroke();

    ctx.beginPath();
    ctx.arc(790, 65, 2.5, 0, Math.PI * 2);
    ctx.fillStyle = "#000";
    ctx.fill();

    ctx.textBaseline = "alphabetic";
    ctx.textAlign = "left";
    ctx.font = "13.9px " + FONT;
    ctx.fillText(seriesName, 816, 59);

    let x = 816;
    const parts = [
      ["\u03bc", true],
      [" = " + meanAdc + ", ", false],
      ["\u03c3", true],
      [" = " + sigmaAdc, false],
    ];
    parts.forEach(([text, italic]) => {
      ctx.font = (italic ? "italic " : "") + "13.9px " + FONT;
      ctx.fillText(text, x, 76);
      x += ctx.measureText(text).width;
    });
    ctx.restore();
  },
};

new Chart(document.getElementById("chart"), {
  type: "scatter",
  data: {
    datasets: [
      {
        label: seriesName,
        data: points,
        backgroundColor: "#000",
        borderColor: "#000",
        pointRadius: 2.5,
        borderWidth: 0,
      },
    ],
  },
  options: {
    responsive: false,
    animation: false,
    layout: { padding: { left: 0, right: 15, top: 0, bottom: 0 } },
    plugins: {
      legend: { display: false },
      tooltip: { enabled: false },
      title: {
        display: true,
        text: chartTitle,
        color: "#000",
        fullSize: false,
        font: { family: FONT, size: 16.67, weight: "normal" },
        padding: { top: 13, bottom: 3 },
      },
    },
    scales: {
      x: {
        type: "linear",
        min: -485,
        max: 10345,
        afterBuildTicks(axis) {
          axis.ticks = xTicks.map((v) => ({ value: v }));
        },
        afterFit(axis) {
          axis.height = 58;
        },
        grid: { color: "#b0b0b0", lineWidth: 1, tickColor: "#000", tickLength: 5 },
        border: { display: false },
        ticks: {
          color: "#000",
          font: { family: FONT, size: 13.9 },
          padding: 4,
          maxRotation: 0,
          callback: (v) => String(v),
        },
        title: {
          display: true,
          text: xLabel,
          color: "#000",
          font: { family: FONT, size: 13.9 },
          padding: { top: 4, bottom: 13 },
        },
      },
      y: {
        type: "linear",
        min: 6040.9,
        max: 6110.15,
        afterBuildTicks(axis) {
          axis.ticks = yTicks.map((v) => ({ value: v }));
        },
        afterFit(axis) {
          axis.width = 81;
        },
        grid: { color: "#b0b0b0", lineWidth: 1, tickColor: "#000", tickLength: 5 },
        border: { display: false },
        ticks: {
          color: "#000",
          font: { family: FONT, size: 13.9 },
          padding: 6,
          callback: (v) => String(v),
        },
        title: {
          display: true,
          text: yLabel,
          color: "#000",
          font: { family: FONT, size: 13.9 },
          padding: { top: 13, bottom: 4 },
        },
      },
    },
  },
  plugins: [frame, mathLegend],
});
</script>
</body>
</html>
